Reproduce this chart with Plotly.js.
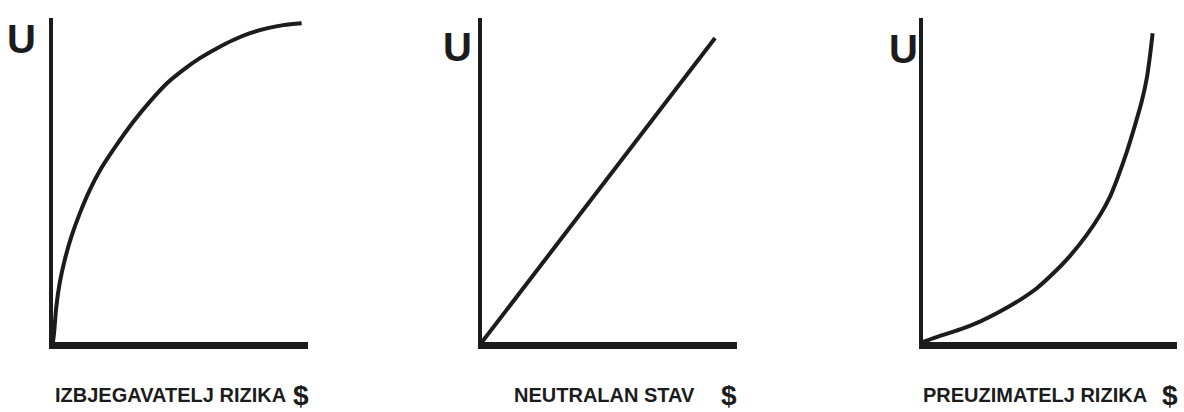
<!DOCTYPE html>
<html>
<head>
<meta charset="utf-8">
<script src="https://cdn.plot.ly/plotly-3.0.1.min.js"></script>
<style>
  html, body { margin: 0; padding: 0; background: #fff; }
</style>
</head>
<body>
<div id="plot" style="width:1184px;height:412px;"></div>
<script>
// utility curves (x = wealth, y = utility, both 0..10)
let averseX = [0, 0.04, 0.13, 0.26, 0.46, 0.72, 1.05, 1.44, 1.89, 2.42, 3.15, 3.80, 4.46, 5.11, 5.76, 6.42, 7.07, 7.73, 8.38, 9.03, 9.75];
let averseY = [0, 0.27, 1.09, 1.81, 2.53, 3.25, 3.97, 4.69, 5.36, 6.00, 6.80, 7.42, 7.98, 8.40, 8.76, 9.06, 9.32, 9.53, 9.68, 9.78, 9.84];

let neutralX = [0, 9.14];
let neutralY = [0, 9.38];

let seekerX = [0, 0.67, 1.46, 2.24, 3.03, 3.82, 4.48, 5.13, 5.79, 6.44, 6.97, 7.36, 7.63, 8.02, 8.35, 8.61, 8.81, 8.94, 9.04];
let seekerY = [0, 0.19, 0.39, 0.63, 0.94, 1.30, 1.66, 2.12, 2.66, 3.30, 3.92, 4.48, 5.00, 5.86, 6.70, 7.42, 8.14, 8.86, 9.53];

// labels under each panel
let panelLabels = ["IZBJEGAVATELJ RIZIKA", "NEUTRALAN STAV", "PREUZIMATELJ RIZIKA"];
let yLabel = "U";
let xLabel = "$";

const W = 1184, H = 412;
const ink = "#1c1c1c";
const font = "Liberation Sans, Arial, sans-serif";

// helpers: pixel -> paper
function px(x) { return x / W; }
function py(y) { return 1 - y / H; }

function curve(x, y, n) {
    return {
        x: x, y: y,
        xaxis: "x" + (n === 1 ? "" : n),
        yaxis: "y" + (n === 1 ? "" : n),
        type: "scatter",
        mode: "lines",
        line: { color: ink, width: 4, shape: "spline", smoothing: 0.8 },
        hoverinfo: "skip"
    };
}

var data = [
    curve(averseX, averseY, 1),
    curve(neutralX, neutralY, 2),
    curve(seekerX, seekerY, 3)
];

// axis look shared by all panels
function xax(l, r) {
    return {
        domain: [px(l), px(r)], range: [0, 10], fixedrange: true,
        showgrid: false, zeroline: false, showticklabels: false, ticks: "",
        showline: true, linecolor: ink, linewidth: 7
    };
}
function yax(anchor) {
    return {
        domain: [py(342), py(18)], range: [0, 10], fixedrange: true, anchor: anchor,
        showgrid: false, zeroline: false, showticklabels: false, ticks: "",
        showline: true, linecolor: ink, linewidth: 4
    };
}

// panel edges in pixels
let panelLeft = [53, 482, 923];
let panelRight = [308, 737, 1177];

// annotation positions
let uPos = [[21, 39], [457, 47], [903, 49]];
let labelPos = [[170, 395], [604, 395], [1035, 395]];
let dollarPos = [[301, 395], [729, 395], [1170, 395]];

var annotations = [];
for (let i = 0; i < 3; i++) {
    annotations.push({
        xref: "paper", yref: "paper", x: px(uPos[i][0]), y: py(uPos[i][1]),
        text: "<b>" + yLabel + "</b>", showarrow: false,
        xanchor: "center", yanchor: "middle",
        font: { family: font, size: 40, color: ink }
    });
    annotations.push({
        xref: "paper", yref: "paper", x: px(labelPos[i][0]), y: py(labelPos[i][1]),
        text: "<b>" + panelLabels[i] + "</b>", showarrow: false,
        xanchor: "center", yanchor: "middle",
        font: { family: font, size: 20, color: ink }
    });
    annotations.push({
        xref: "paper", yref: "paper", x: px(dollarPos[i][0]), y: py(dollarPos[i][1]),
        text: "<b>" + xLabel + "</b>", showarrow: false,
        xanchor: "center", yanchor: "middle",
        font: { family: font, size: 28, color: ink }
    });
}

var layout = {
    width: W, height: H,
    margin: { l: 0, r: 0, t: 0, b: 0 },
    paper_bgcolor: "#fff", plot_bgcolor: "#fff",
    showlegend: false,
    xaxis: xax(panelLeft[0], panelRight[0]), yaxis: yax("x"),
    xaxis2: xax(panelLeft[1], panelRight[1]), yaxis2: yax("x2"),
    xaxis3: xax(panelLeft[2], panelRight[2]), yaxis3: yax("x3"),
    annotations: annotations
};

Plotly.newPlot("plot", data, layout, { staticPlot: true, displayModeBar: false });
</script>
</body>
</html>
